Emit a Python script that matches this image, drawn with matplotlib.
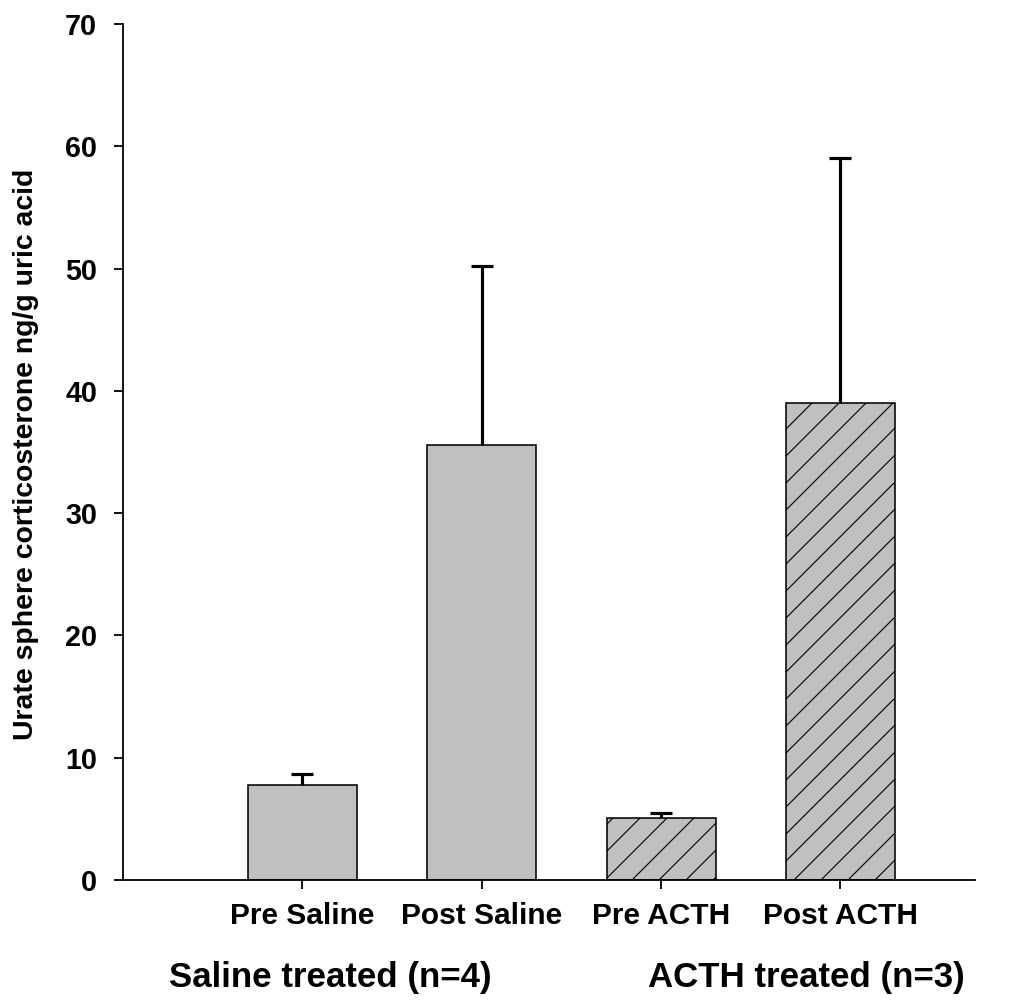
import matplotlib
matplotlib.use("Agg")
import matplotlib.pyplot as plt
import numpy as np

plt.rcParams["font.family"] = ["Liberation Sans", "DejaVu Sans"]
plt.rcParams["font.weight"] = "bold"
plt.rcParams["hatch.linewidth"] = 0.5

# data
labels = ["Pre Saline", "Post Saline", "Pre ACTH", "Post ACTH"]
means = [7.75, 35.55, 5.1, 39.0]
sem = [0.9, 14.65, 0.4, 20.05]
hatches = ["", "", "//", "//"]
groups = ["Saline treated (n=4)", "ACTH treated (n=3)"]

DPI = 162
fig = plt.figure(figsize=(1011 / DPI, 1001 / DPI), dpi=DPI)
ax = fig.add_axes([123 / 1011, 1 - 880 / 1001, (975 - 123) / 1011, (880 - 24) / 1001])

x = np.arange(1, len(labels) + 1)
bars = ax.bar(x, means, width=0.607, color="#c0c0c0", edgecolor="black",
              linewidth=0.7, zorder=2)
for b, h in zip(bars, hatches):
    b.set_hatch(h)
_, caps, _ = ax.errorbar(x, means, yerr=[np.zeros(len(sem)), sem], fmt="none",
                         ecolor="black", elinewidth=1.4, capsize=4.9,
                         capthick=1.4, zorder=3)
caps[0].set_visible(False)  # only the upper cap, like the original

ax.set_xlim(0.0, 4.75)
ax.set_ylim(0, 70)
ax.set_yticks(np.arange(0, 71, 10))
ax.set_xticks(x)
ax.set_xticklabels(labels, fontsize=13.3, fontweight="bold")
ax.tick_params(axis="y", labelsize=12.8, direction="out", length=4, width=0.8, pad=7.5)
ax.tick_params(axis="x", direction="out", length=4, width=0.8, pad=6)
for lbl in ax.get_yticklabels():
    lbl.set_fontweight("bold")

for s in ["top", "right"]:
    ax.spines[s].set_visible(False)
for s in ["left", "bottom"]:
    ax.spines[s].set_linewidth(0.8)

ax.set_ylabel("Urate sphere corticosterone ng/g uric acid", fontsize=12.6,
              fontweight="bold")
ax.yaxis.set_label_coords(-(123 - 39) / 852, (880 - 454) / 856)

fig.text(330 / 1011, 1 - 977 / 1001, groups[0], fontsize=15.5, fontweight="bold",
         ha="center", va="center")
fig.text(806 / 1011, 1 - 977 / 1001, groups[1], fontsize=15.5, fontweight="bold",
         ha="center", va="center")

fig.savefig("out.png", dpi=DPI)
